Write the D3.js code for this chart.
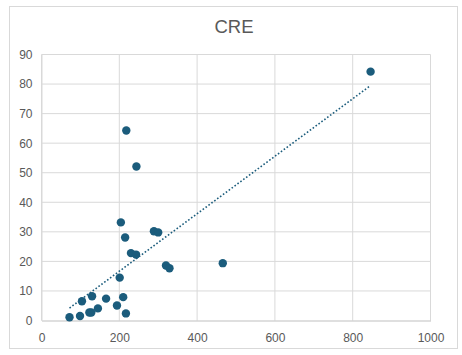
<!DOCTYPE html>
<html><head><meta charset="utf-8">
<script src="https://cdn.jsdelivr.net/npm/d3@7/dist/d3.min.js"></script>
<style>body{margin:0;background:#fff}svg{display:block;font-family:"Liberation Sans",Arial,sans-serif}</style>
</head><body><svg id="c" width="462" height="355"></svg>
<script>
const title = "CRE";
const xValues = [72, 99, 123, 128, 145, 166, 104, 130, 194, 210, 217, 201, 204, 215, 230, 243, 289, 300, 320, 329, 466, 218, 244, 846];
const yValues = [1.1, 1.5, 2.7, 2.7, 4.1, 7.4, 6.5, 8.2, 5.1, 7.9, 2.4, 14.5, 33.2, 28.1, 22.8, 22.3, 30.2, 29.8, 18.6, 17.7, 19.4, 64.3, 52.1, 84.2];
const xTicks = [0, 200, 400, 600, 800, 1000];
const yTicks = [0, 10, 20, 30, 40, 50, 60, 70, 80, 90];

const svg = d3.select("#c");
const color = "#1b5c7c";
svg.append("rect").attr("x",9.5).attr("y",6.5).attr("width",448).attr("height",342)
  .attr("fill","#fff").attr("stroke","#d9d9d9");
svg.append("text").attr("x",234).attr("y",33).attr("text-anchor","middle")
  .attr("font-size",18.5).attr("fill","#595959").text(title);

const x = d3.scaleLinear().domain([0,1000]).range([41.5,430.5]);
const y = d3.scaleLinear().domain([0,90]).range([320.5,54.5]);

const grid = svg.append("g");
grid.selectAll("line.h").data(yTicks.slice(1)).join("line")
  .attr("x1",x(0)).attr("x2",x(1000)).attr("y1",d=>y(d)).attr("y2",d=>y(d))
  .attr("stroke","#d9d9d9");
grid.selectAll("line.v").data(xTicks).join("line")
  .attr("y1",y(0)).attr("y2",y(90)).attr("x1",d=>x(d)).attr("x2",d=>x(d))
  .attr("stroke","#d9d9d9");

const xAxis = svg.append("g").attr("transform",`translate(0,${y(0)})`)
  .call(d3.axisBottom(x).tickValues(xTicks).tickFormat(d3.format("d")).tickSize(0).tickPadding(13));
xAxis.select(".domain").attr("stroke","#bfbfbf");
const yAxis = svg.append("g").attr("transform",`translate(${x(0)},0)`)
  .call(d3.axisLeft(y).tickValues(yTicks).tickFormat(d3.format("d")).tickSize(0).tickPadding(9));
yAxis.select(".domain").attr("stroke","#d9d9d9");
svg.selectAll(".tick text").attr("fill","#595959").attr("font-size",12)
  .attr("font-family","Liberation Sans, Arial, sans-serif");

// linear trendline (least squares of the data)
const mx = d3.mean(xValues), my = d3.mean(yValues);
let sxy=0, sxx=0;
xValues.forEach((v,i)=>{sxy+=(v-mx)*(yValues[i]-my); sxx+=(v-mx)*(v-mx);});
const b = sxy/sxx, a = my-b*mx;
const x0 = d3.min(xValues), x1 = d3.max(xValues);
svg.append("line").attr("x1",x(x0)).attr("y1",y(a+b*x0)).attr("x2",x(x1)).attr("y2",y(a+b*x1))
  .attr("stroke",color).attr("stroke-width",1.6).attr("stroke-dasharray","1.6 2");

svg.append("g").selectAll("circle").data(xValues).join("circle")
  .attr("cx",d=>x(d)).attr("cy",(d,i)=>y(yValues[i])).attr("r",4.2).attr("fill",color);
</script></body></html>
